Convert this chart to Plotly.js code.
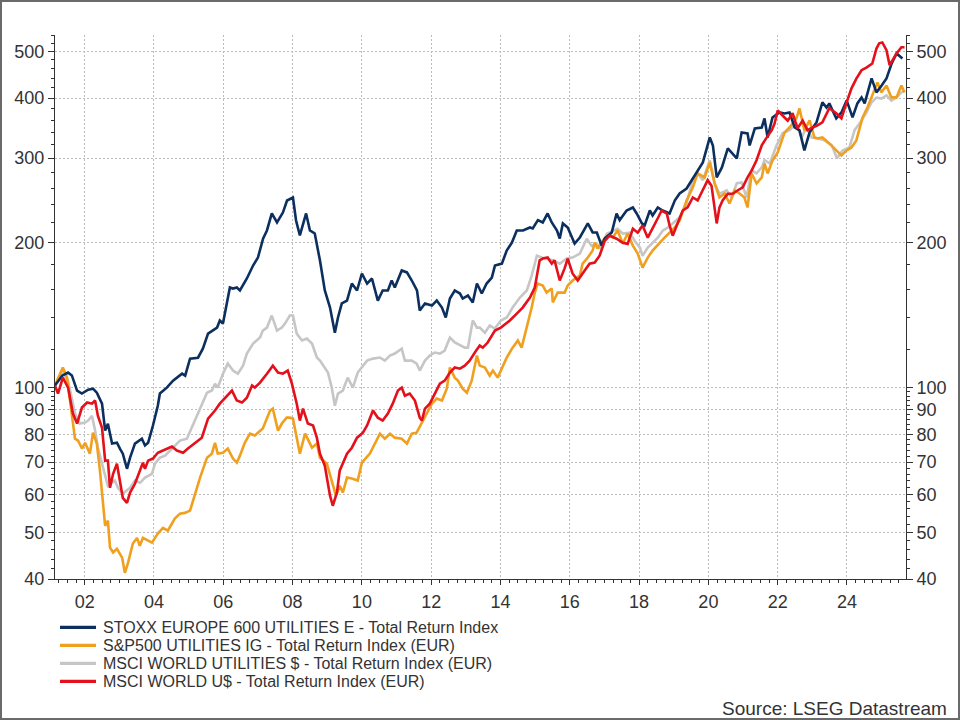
<!DOCTYPE html>
<html>
<head>
<meta charset="utf-8">
<script src="https://cdn.plot.ly/plotly-3.0.1.min.js"></script>
<style>
  html, body { margin: 0; padding: 0; background: #fff; }
  #wrap { position: relative; width: 960px; height: 720px; }
  #chart { position: absolute; left: 0; top: 0; width: 960px; height: 720px; }
  #frame { position: absolute; left: 0; top: 0; width: 960px; height: 720px; box-sizing: border-box; border: 2px solid #6a6a6a; pointer-events: none; }
</style>
</head>
<body>
<div id="wrap"><div id="chart"></div><div id="frame"></div></div>
<script>
// ---------- DATA (decimal years, index levels) ----------
const stoxxYears = [2001.14,2001.35,2001.52,2001.63,2001.78,2001.92,2002.10,2002.24,2002.35,2002.50,2002.59,2002.67,2002.79,2002.93,2003.02,2003.10,2003.22,2003.31,2003.45,2003.65,2003.74,2003.83,2003.97,2004.11,2004.17,2004.37,2004.55,2004.81,2004.90,2005.04,2005.27,2005.41,2005.56,2005.70,2005.82,2005.90,2005.99,2006.19,2006.28,2006.39,2006.48,2006.68,2006.86,2007.00,2007.15,2007.26,2007.40,2007.55,2007.72,2007.84,2008.01,2008.10,2008.21,2008.39,2008.50,2008.64,2008.79,2008.93,2009.08,2009.22,2009.31,2009.42,2009.57,2009.71,2009.86,2010.00,2010.15,2010.29,2010.46,2010.60,2010.75,2010.86,2010.95,2011.15,2011.30,2011.44,2011.59,2011.67,2011.82,2012.02,2012.16,2012.31,2012.42,2012.54,2012.68,2012.83,2012.91,2013.06,2013.20,2013.32,2013.46,2013.60,2013.75,2013.84,2014.04,2014.18,2014.33,2014.47,2014.65,2014.85,2014.93,2015.08,2015.22,2015.36,2015.48,2015.63,2015.71,2015.80,2015.94,2016.14,2016.29,2016.52,2016.66,2016.78,2016.92,2017.01,2017.21,2017.35,2017.44,2017.64,2017.82,2017.93,2018.08,2018.16,2018.31,2018.39,2018.54,2018.68,2018.88,2019.03,2019.17,2019.37,2019.55,2019.66,2019.84,2020.04,2020.13,2020.24,2020.39,2020.56,2020.82,2020.96,2021.13,2021.19,2021.34,2021.54,2021.62,2021.71,2021.85,2022.05,2022.20,2022.34,2022.49,2022.63,2022.77,2022.92,2023.12,2023.29,2023.41,2023.49,2023.69,2023.84,2023.99,2024.16,2024.30,2024.42,2024.51,2024.71,2024.85,2025.00,2025.14,2025.29,2025.43,2025.60];
const stoxxValues = [101,105.9,107.5,106,98.6,97.2,99,99.5,97.6,92.6,81.4,84.1,76.5,76.8,74.6,72.9,67.8,71.5,76.5,78.3,75.8,76.8,83.4,91.7,97.2,100,103.4,106.9,105.9,114.9,115.4,120.5,129.5,131.4,133.3,137.9,135.9,161.5,160.7,161.5,159.2,168.6,179.4,186.4,204.2,212.2,230.2,220.5,231.2,244.9,248.5,222.6,207.2,230.2,212.2,209.2,183.7,159.2,146.7,130.1,139.9,149.6,151.7,164.6,159.2,172.7,164.6,168.6,151.7,159.2,159.2,167,161.5,175.2,173.6,167,159.2,144.6,149.6,148.1,151.7,146.7,139.9,153.2,159.2,156.9,153.2,155.4,150.3,164.6,156.9,164.6,169.4,179.4,181.1,192.8,200.3,212.2,212.2,215.3,214.3,223,220.5,230.2,220.5,212.2,204.2,219.5,215.3,199.3,205.2,219.5,210.2,210.2,197.4,204.2,210.2,230.2,223,233.5,236.9,230.2,219.5,217.4,233.5,228,236.9,233.5,230.2,244.9,253.3,259.4,272.2,278.8,293.9,331.3,318.8,273.5,287,314.3,299.6,339.4,337.8,318.8,345.9,347.5,362.8,331.3,364.6,373.4,371.6,373.4,347.5,342.6,311.3,339.4,356,391.7,382.4,389.9,362.8,373.4,395.5,364.6,389.9,401.2,389.9,439.5,411,425,439.5,472.2,495.4,483.6];

const spYears = [2001.14,2001.37,2001.49,2001.58,2001.66,2001.72,2001.81,2001.92,2002.01,2002.15,2002.24,2002.35,2002.44,2002.53,2002.59,2002.67,2002.73,2002.82,2002.93,2003.08,2003.16,2003.25,2003.39,2003.51,2003.59,2003.68,2003.83,2003.94,2004.11,2004.26,2004.40,2004.60,2004.75,2004.89,2005.04,2005.18,2005.33,2005.53,2005.67,2005.76,2005.84,2005.99,2006.13,2006.28,2006.39,2006.48,2006.62,2006.77,2006.91,2007.14,2007.35,2007.43,2007.58,2007.69,2007.83,2007.92,2008.01,2008.12,2008.21,2008.36,2008.56,2008.70,2008.79,2008.99,2009.13,2009.25,2009.36,2009.45,2009.57,2009.71,2009.88,2010.00,2010.23,2010.37,2010.52,2010.66,2010.81,2010.95,2011.15,2011.30,2011.44,2011.58,2011.73,2011.87,2012.02,2012.16,2012.31,2012.45,2012.54,2012.68,2012.77,2012.91,2013.03,2013.17,2013.32,2013.40,2013.55,2013.69,2013.78,2013.92,2014.04,2014.18,2014.35,2014.50,2014.61,2014.76,2014.90,2014.99,2015.07,2015.22,2015.33,2015.48,2015.51,2015.65,2015.85,2015.94,2016.08,2016.29,2016.37,2016.52,2016.66,2016.72,2016.80,2016.95,2017.09,2017.24,2017.38,2017.53,2017.67,2017.82,2017.96,2018.10,2018.25,2018.39,2018.59,2018.74,2018.88,2019.03,2019.17,2019.37,2019.55,2019.69,2019.89,2020.04,2020.18,2020.32,2020.47,2020.61,2020.76,2020.90,2021.04,2021.13,2021.25,2021.39,2021.54,2021.62,2021.71,2021.85,2022.00,2022.20,2022.34,2022.54,2022.63,2022.77,2022.92,2023.06,2023.15,2023.29,2023.49,2023.69,2023.84,2023.99,2024.13,2024.27,2024.36,2024.45,2024.59,2024.73,2024.88,2024.99,2025.14,2025.28,2025.43,2025.57,2025.66];
const spValues = [101,110.1,104.9,92.6,84.2,78.3,77.6,74.7,76.8,72.9,80.6,76.5,67.2,58.2,51.6,52.9,46.5,45.4,46.2,44.3,41.2,43.2,47.4,48.7,46.9,48.7,48.0,47.6,49.7,51.1,50.4,53.4,54.7,54.9,55.5,60.2,65.0,71.5,72.9,76.8,72.9,73.2,74.7,71.2,69.8,72.2,76.8,80.2,79.5,82.2,89.6,90.4,81.4,84.2,86.6,86.6,86.2,78.7,72.9,80.2,75.0,76.5,71.5,69.5,64.1,59.6,62.5,60.5,65.0,64.7,64.1,69.8,72.9,76.5,80.2,78.3,80.2,78.7,78.3,76.5,80.2,80.6,84.6,88.3,92.6,94.9,94.0,99.5,110.1,104.9,103.4,99.5,97.6,103.4,116.6,111.1,110.1,105.9,108.5,104.9,110.1,115.5,121.1,125.3,121.1,133.3,146.7,157.6,164.6,163.0,157.6,160.7,150.3,157.6,157.6,163.0,167.0,171.0,181.1,186.4,192.8,200.3,194.6,202.2,207.2,205.2,212.2,199.3,209.2,197.4,190.0,177.7,186.4,192.8,200.3,205.2,210.1,215.2,222.6,245.0,260.7,278.8,273.5,293.9,265.7,248.5,253.3,241.5,257.0,253.3,248.5,236.9,278.8,265.7,273.5,292.5,278.8,296.7,308.3,339.3,347.5,362.8,380.6,342.6,359.4,331.3,329.7,331.3,321.9,311.3,303.9,311.3,315.8,326.6,347.5,364.6,382.4,405.1,431.2,411.0,425.0,401.3,401.3,425.0,411.0];

const msciUtilYears = [2001.14,2001.37,2001.52,2001.72,2001.86,2002.01,2002.10,2002.21,2002.30,2002.38,2002.53,2002.67,2002.87,2002.96,2003.10,2003.31,2003.45,2003.60,2003.74,2003.94,2004.03,2004.17,2004.32,2004.46,2004.60,2004.75,2004.95,2005.09,2005.24,2005.38,2005.53,2005.67,2005.76,2005.84,2005.99,2006.13,2006.28,2006.42,2006.57,2006.68,2006.86,2007.06,2007.14,2007.26,2007.40,2007.55,2007.69,2007.78,2007.92,2008.01,2008.12,2008.27,2008.41,2008.56,2008.70,2008.79,2008.93,2009.02,2009.13,2009.22,2009.31,2009.45,2009.59,2009.74,2009.88,2010.00,2010.15,2010.32,2010.52,2010.66,2010.81,2010.95,2011.15,2011.24,2011.44,2011.58,2011.67,2011.82,2011.96,2012.10,2012.25,2012.39,2012.54,2012.68,2012.83,2012.97,2013.06,2013.20,2013.32,2013.40,2013.55,2013.69,2013.84,2014.01,2014.18,2014.35,2014.56,2014.76,2014.90,2015.05,2015.19,2015.33,2015.51,2015.71,2015.91,2016.08,2016.29,2016.49,2016.63,2016.78,2016.86,2017.07,2017.24,2017.38,2017.53,2017.73,2017.87,2018.02,2018.10,2018.25,2018.39,2018.54,2018.68,2018.82,2018.97,2019.17,2019.37,2019.55,2019.69,2019.84,2020.04,2020.18,2020.32,2020.53,2020.67,2020.82,2020.96,2021.10,2021.25,2021.39,2021.54,2021.62,2021.77,2021.97,2022.14,2022.34,2022.54,2022.69,2022.83,2022.98,2023.15,2023.35,2023.56,2023.71,2023.87,2024.07,2024.22,2024.36,2024.56,2024.71,2024.85,2024.99,2025.14,2025.28,2025.43,2025.57,2025.66];
const msciUtilValues = [101,107.5,103.4,88.3,84.2,84.6,85.4,87.4,81.4,75.0,68.2,62.5,64.1,61.9,60.2,61.9,64.1,63.4,65.0,66.2,69.5,71.5,72.2,74.0,75.7,77.6,78.3,82.5,87.4,92.6,97.6,98.6,101.9,100,106.9,112.2,108.5,106.9,111.1,117.7,123.5,127.1,131.4,133.3,141.2,131.4,133.3,135.9,141.2,141.2,129.5,125.3,126.5,123.5,115.5,113.8,109.5,107.5,100,91.7,97.2,98.6,104.9,100,107.5,110.1,113.8,114.9,115.5,113.8,116.6,117.7,120.5,113.8,113.8,112.2,108.5,113.8,116.6,118.3,117.7,119.4,127.1,124.1,122.3,121.1,121.1,137.9,133.3,133.3,130.1,134.6,132.7,137.9,139.9,146.7,153.9,159.2,171,188,186.4,185.5,184,181,185.5,186.4,190,204,197,199,194.6,209,212,214,209,210,202,195.6,188,195.6,200,205,212,215,219.5,226,241.5,270,279,270,297,266,253,257,248.5,266,267,248.5,283,279,287,297,292.5,319,338,343,354,331,347.5,331,330,327,319,300,311,316,343,354,373,392,401,399,405,395,401,411,415];

const msciWorldYears = [2001.14,2001.23,2001.37,2001.52,2001.66,2001.78,2001.92,2002.07,2002.21,2002.30,2002.38,2002.50,2002.59,2002.67,2002.73,2002.82,2002.93,2003.02,2003.10,2003.22,2003.31,2003.45,2003.60,2003.68,2003.74,2003.83,2003.97,2004.11,2004.26,2004.40,2004.52,2004.66,2004.84,2004.98,2005.18,2005.38,2005.56,2005.76,2005.90,2006.05,2006.25,2006.39,2006.54,2006.68,2006.83,2006.91,2007.06,2007.26,2007.43,2007.58,2007.72,2007.86,2007.98,2008.12,2008.21,2008.30,2008.44,2008.59,2008.70,2008.79,2008.93,2009.08,2009.16,2009.28,2009.36,2009.57,2009.71,2009.86,2010.03,2010.15,2010.32,2010.46,2010.60,2010.75,2010.89,2011.04,2011.15,2011.24,2011.38,2011.53,2011.67,2011.73,2011.82,2011.96,2012.10,2012.25,2012.39,2012.54,2012.68,2012.83,2012.97,2013.11,2013.26,2013.40,2013.49,2013.63,2013.84,2014.01,2014.16,2014.27,2014.47,2014.64,2014.85,2014.99,2015.13,2015.22,2015.36,2015.48,2015.56,2015.71,2015.85,2015.94,2016.08,2016.23,2016.37,2016.57,2016.72,2016.86,2017.01,2017.15,2017.35,2017.53,2017.67,2017.82,2017.96,2018.10,2018.25,2018.39,2018.54,2018.65,2018.80,2018.88,2018.97,2019.11,2019.26,2019.40,2019.55,2019.69,2019.84,2019.98,2020.09,2020.24,2020.32,2020.41,2020.56,2020.70,2020.84,2020.99,2021.13,2021.25,2021.39,2021.54,2021.68,2021.83,2021.91,2022.00,2022.14,2022.29,2022.43,2022.57,2022.72,2022.86,2023.01,2023.15,2023.29,2023.49,2023.69,2023.84,2023.99,2024.13,2024.27,2024.42,2024.56,2024.73,2024.85,2024.93,2025.02,2025.14,2025.23,2025.31,2025.43,2025.57,2025.66];
const msciWorldValues = [101,97.2,104.9,100,88.3,84.2,90.9,93.1,92.6,94.0,87.4,82.5,70.5,70.5,61.9,66.2,69.5,63.1,59.0,57.6,60.5,63.1,67.2,69.8,67.8,70.5,71.2,73.2,74.0,74.7,75.4,74.0,73.2,74.7,76.8,78.7,86.2,89.6,92.6,95.3,98.6,94.0,93.1,95.3,101,100,102.4,106.9,111.1,107.5,106.9,108.5,101.9,92.6,85.4,90.4,84.2,83.4,78.7,72.9,68.8,59.6,56.8,60.5,67.2,72.9,75.0,78.7,80.6,83.4,89.6,86.6,85.4,88.3,92.6,98.6,100,96.2,97.2,94.0,86.6,85.4,90.4,92.6,97.2,101.9,103.4,107.5,110.1,109.5,111.1,113.8,118.3,122.3,121.1,124.1,131.4,133.3,135.9,137.9,142.5,146.7,153.9,161.5,184,185.5,186.4,181,184,167,177,185.5,172.7,167,172.7,181,182,188,202,207,204,200,199,214,210,217.4,205,214,225,233.5,230,217.4,207,219.5,233.5,237,248.5,245,257,270,263,219.5,237,245,253,253,257,261,273.5,283,297,319,331,343,354,377,368,359,372,346,359,343,347.5,351,356,381,372,363,392,419,439,457,463,472,507,520,522,503,468,479,495,510,510];

const seriesNames = [
  "STOXX EUROPE 600 UTILITIES E - Total Return Index",
  "S&P500 UTILITIES IG - Total Return Index (EUR)",
  "MSCI WORLD UTILITIES $ - Total Return Index (EUR)",
  "MSCI WORLD U$ - Total Return Index (EUR)"
];
const xTickVals = [2002,2004,2006,2008,2010,2012,2014,2016,2018,2020,2022,2024];
const xTickText = ["02","04","06","08","10","12","14","16","18","20","22","24"];
const yTickVals = [40,50,60,70,80,90,100,200,300,400,500];
const yTickText = ["40","50","60","70","80","90","100","200","300","400","500"];
const yMinorVals = [42,44,46,48,52,54,56,58,62,64,66,68,72,74,76,78,82,84,86,88,92,94,96,98,120,140,160,180,220,240,260,280,320,340,360,380,420,440,460,480,520,540];

// ---------- STYLE ----------
const FONT = '"Liberation Sans", Arial, sans-serif';
const TXT = '#333333';
const seriesColors = ['#0b2f5e', '#f0a01e', '#c6c6c6', '#e4101b'];
const LW = 2.6;

const traces = [
  { x: msciUtilYears, y: msciUtilValues, name: seriesNames[2], mode: 'lines', showlegend: false, line: { color: seriesColors[2], width: LW } },
  { x: spYears, y: spValues, name: seriesNames[1], mode: 'lines', showlegend: false, line: { color: seriesColors[1], width: LW } },
  { x: stoxxYears, y: stoxxValues, name: seriesNames[0], mode: 'lines', showlegend: false, line: { color: seriesColors[0], width: LW } },
  { x: msciWorldYears, y: msciWorldValues, name: seriesNames[3], mode: 'lines', showlegend: false, line: { color: seriesColors[3], width: LW } },
  { x: [], y: [], yaxis: 'y2', showlegend: false, hoverinfo: 'skip', mode: 'lines' }
];

// ---------- LEGEND (drawn below plot, paper coordinates) ----------
const plotW = 850.7, plotH = 543.7;
const legendRowsPx = [627, 645, 663, 681];
const shapes = [], annotations = [];
seriesNames.forEach((nm, i) => {
  const yp = (578.7 - legendRowsPx[i]) / plotH;
  shapes.push({ type: 'line', xref: 'paper', yref: 'paper', x0: 5 / plotW, x1: 41 / plotW, y0: yp, y1: yp,
                line: { color: seriesColors[i], width: 3.2 } });
  annotations.push({ xref: 'paper', yref: 'paper', x: 46 / plotW, y: yp, xanchor: 'left', yanchor: 'middle',
                     text: nm, showarrow: false, font: { family: FONT, size: 16, color: TXT } });
});
annotations.push({
  xref: 'paper', yref: 'paper', x: 1.0509, y: -0.2373, xanchor: 'right', yanchor: 'middle',
  text: 'Source: LSEG Datastream', showarrow: false, font: { family: FONT, size: 19, color: TXT }
});

const yRange = [Math.log10(40), Math.log10(541)];
const yCommon = {
  type: 'log', range: yRange, tickmode: 'array', tickvals: yTickVals, ticktext: yTickText,
  showline: true, linecolor: TXT, linewidth: 1, ticks: 'outside', ticklen: 6, tickcolor: TXT, tickwidth: 1,
  tickfont: { family: FONT, size: 18, color: TXT }, zeroline: false,
  minor: { tickmode: 'array', tickvals: yMinorVals, ticks: 'outside', ticklen: 3, tickcolor: TXT, tickwidth: 1, showgrid: false }
};

const layout = {
  width: 960, height: 720,
  paper_bgcolor: '#ffffff', plot_bgcolor: '#ffffff',
  margin: { l: 55, r: 54, t: 35, b: 141, pad: 0 },
  font: { family: FONT, color: TXT, size: 16 },
  showlegend: false,
  xaxis: {
    range: [2001.143, 2025.703], tickmode: 'array', tickvals: xTickVals, ticktext: xTickText,
    showline: true, linecolor: TXT, linewidth: 1, ticks: 'outside', ticklen: 5, tickcolor: TXT, tickwidth: 1,
    tickfont: { family: FONT, size: 18, color: TXT }, zeroline: false, ticklabelstandoff: 1,
    showgrid: true, gridcolor: '#bdbdbd', gridwidth: 1, griddash: '2px,2px',
    minor: { tick0: 2002, dtick: 0.25, ticks: 'outside', ticklen: 3, tickcolor: TXT, tickwidth: 1, showgrid: false }
  },
  yaxis: Object.assign({}, yCommon, { side: 'left', showgrid: true, gridcolor: '#bdbdbd', gridwidth: 1, griddash: '2px,2px' }),
  yaxis2: Object.assign({}, yCommon, { side: 'right', overlaying: 'y', anchor: 'x', showgrid: false }),
  shapes: shapes,
  annotations: annotations
};

Plotly.newPlot('chart', traces, layout, { staticPlot: true, displayModeBar: false });
</script>
</body>
</html>
